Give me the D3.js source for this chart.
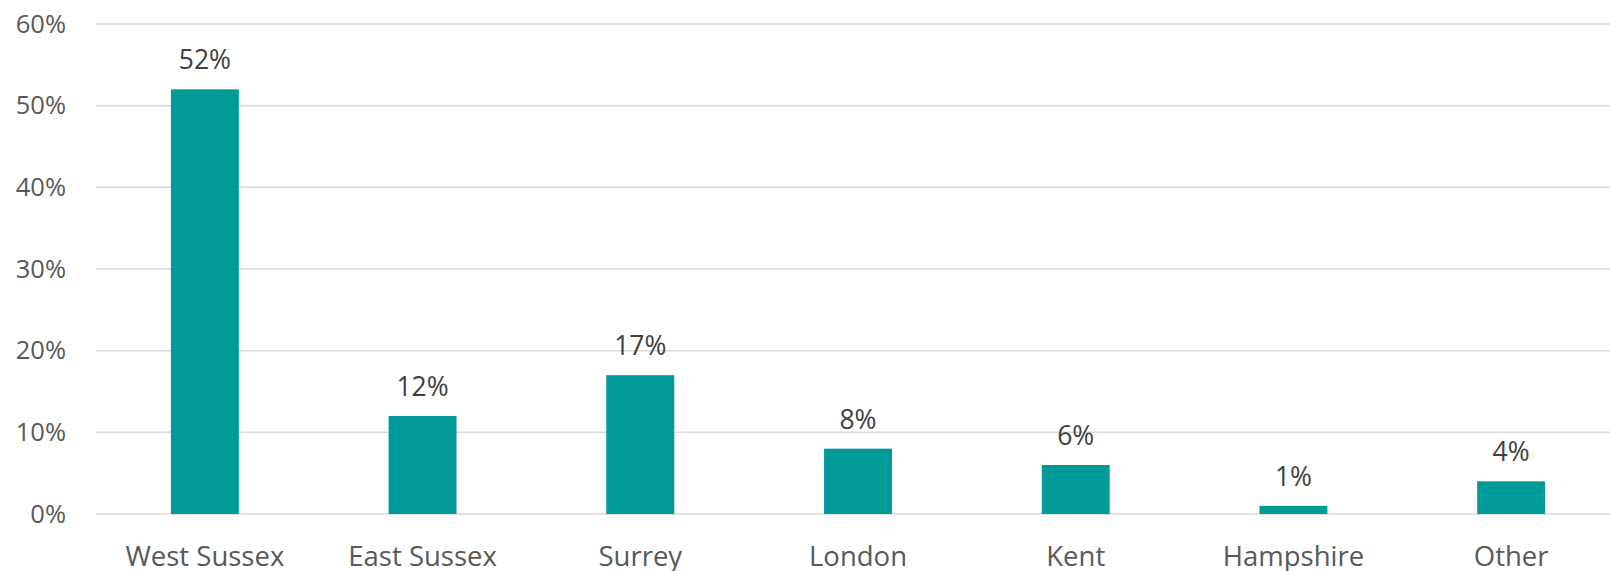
<!DOCTYPE html>
<html>
<head>
<meta charset="utf-8">
<script src="https://cdn.jsdelivr.net/npm/d3@7"></script>
<style>
  body { margin: 0; background: #fff; }
  text { font-family: "Open Sans", sans-serif; }
</style>
</head>
<body>
<svg id="chart" width="1610" height="571"></svg>
<script>
// chart data
var regions = ["West Sussex", "East Sussex", "Surrey", "London", "Kent", "Hampshire", "Other"];
var shares = [52, 12, 17, 8, 6, 1, 4];
var yTicks = [0, 10, 20, 30, 40, 50, 60];

var svg = d3.select("#chart");

var x = d3.scaleBand()
    .domain(regions)
    .range([96, 1620])
    .paddingInner(0.688)
    .paddingOuter(0.344);

var y = d3.scaleLinear()
    .domain([0, 60])
    .range([514, 24]);

// gridlines
svg.append("g")
    .selectAll("line")
    .data(yTicks)
    .enter()
    .append("line")
    .attr("x1", 96)
    .attr("x2", 1610)
    .attr("y1", function (d) { return y(d); })
    .attr("y2", function (d) { return y(d); })
    .attr("stroke", "#d9d9d9")
    .attr("stroke-width", 1.5);

// y axis labels
var yAxis = d3.axisLeft(y)
    .tickValues(yTicks)
    .tickFormat(function (d) { return d + "%"; })
    .tickSize(0)
    .tickPadding(0);

svg.append("g")
    .attr("transform", "translate(66,0)")
    .call(yAxis)
    .call(function (g) { g.select(".domain").remove(); })
    .selectAll("text")
    .attr("fill", "#595959")
    .style("font-size", "25.5px")
    .style("font-family", "'Open Sans', sans-serif");

// bars
svg.append("g")
    .selectAll("rect")
    .data(shares)
    .enter()
    .append("rect")
    .attr("x", function (d, i) { return x(regions[i]); })
    .attr("y", function (d) { return y(d); })
    .attr("width", x.bandwidth())
    .attr("height", function (d) { return y(0) - y(d); })
    .attr("fill", "#009b99");

// data labels
svg.append("g")
    .selectAll("text")
    .data(shares)
    .enter()
    .append("text")
    .attr("x", function (d, i) { return x(regions[i]) + x.bandwidth() / 2; })
    .attr("y", function (d) { return y(d) - 20; })
    .attr("text-anchor", "middle")
    .attr("fill", "#404040")
    .style("font-size", "26.5px")
    .text(function (d) { return d + "%"; });

// x axis labels
var xAxis = d3.axisBottom(x).tickSize(0).tickPadding(0);
svg.append("g")
    .attr("transform", "translate(0,546)")
    .call(xAxis)
    .call(function (g) { g.select(".domain").remove(); })
    .selectAll("text")
    .attr("dy", "0.72em")
    .attr("fill", "#595959")
    .style("font-size", "27.5px")
    .style("font-family", "'Open Sans', sans-serif");
</script>
</body>
</html>
